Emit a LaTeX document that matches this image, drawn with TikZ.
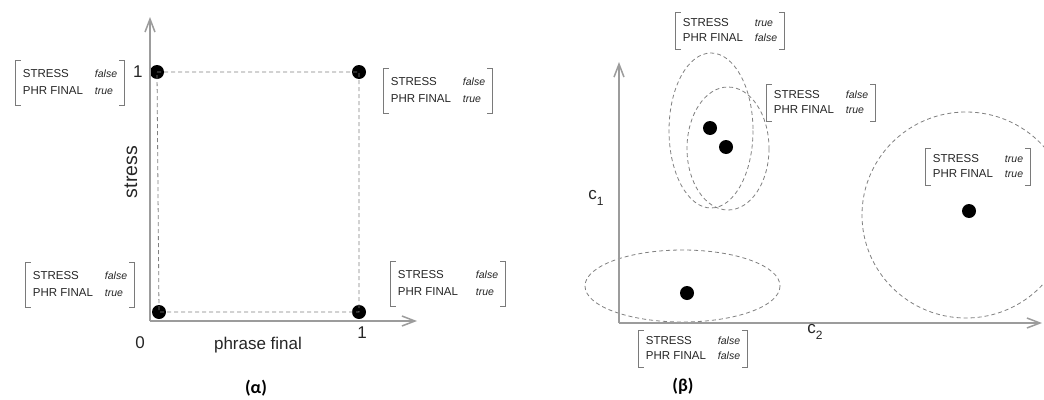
\documentclass[tikz,border=0pt]{standalone}
\usepackage{fontspec}
\setmainfont{Liberation Sans}
\newfontfamily\capfont{Carlito}
\usetikzlibrary{arrows.meta, positioning}

\definecolor{axisgray}{HTML}{9C9C9C}
\definecolor{dashgray}{HTML}{808080}
\definecolor{brkgray}{HTML}{7A7A7A}
\definecolor{inkgray}{HTML}{262626}

\newcommand{\valfont}{\fontsize{10.5}{12}\itshape}
% feature matrix: [gap]{stress value}{phr final value}
\newcommand{\fm}[3][12pt]{\begin{tabular}{@{}l@{\hspace{#1}}l@{}}STRESS & \valfont #2\\PHR FINAL & \valfont #3\end{tabular}}
% square brackets round a named node
\newcommand{\brackets}[1]{%
  \draw[brk] ([xshift=5pt]#1.north west) -| (#1.south west) -- ++(5,0);
  \draw[brk] ([xshift=-5pt]#1.north east) -| (#1.south east) -- ++(-5,0);
}

\begin{document}
\begin{tikzpicture}[
                x=1pt, y=-1pt,
                >={Straight Barb[length=13pt,width=10pt]},
                axis/.style={draw=axisgray, line width=1.5pt, ->},
                guide/.style={draw=dashgray, line width=0.8pt, dash pattern=on 4pt off 3pt},
                brk/.style={draw=brkgray, line width=1.1pt},
                featbox/.style={inner xsep=7pt, inner ysep=4pt, text=inkgray, font=\fontsize{11.5}{14.5}\selectfont},
                tallfeat/.style={featbox, inner ysep=5pt, font=\fontsize{11.5}{17}\selectfont},
                dot/.style={circle, fill=black, inner sep=0pt, minimum size=14pt},
                axlabel/.style={text=inkgray, inner sep=0pt, font=\fontsize{17}{20}\selectfont},
                caption/.style={inner sep=0pt, font=\capfont\bfseries\fontsize{18}{20}\selectfont}
            ]
            \path[use as bounding box, fill=white] (0,0) rectangle (1044,399);

            % (alpha): the four corners
            \coordinate (o1) at (150,321);
            \coordinate (y1) at (150,17);
            \coordinate (x1) at (417,321);
            \node[dot] (p01) at (157,72) {};
            \node[dot] (p11) at (359,72) {};
            \node[dot] (p00) at (159,312) {};
            \node[dot] (p10) at (359,312) {};
            \draw[guide] (p01.center) -- (p11.center) -- (p10.center) -- (p00.center) -- cycle;
            \draw[axis] (o1) -- (y1);
            \draw[axis] (o1) -- (x1);

            \node[axlabel, left=7pt of p01] (one1) {1};
            \node[axlabel] (zero) at (140,343) {0};
            \node[axlabel] (one2) at (362,333) {1};
            \node[axlabel] (xlab) at (258,345) {phrase final};
            \node[axlabel, rotate=90, font=\fontsize{19.5}{22}\selectfont] (ylab) at (131,172) {stress};

            \node[tallfeat] (m01) at (70,83) {\fm{false}{true}};
            \node[tallfeat] (m11) at (438,91) {\fm{false}{true}};
            \node[tallfeat] (m00) at (80,285) {\fm{false}{true}};
            \node[tallfeat] (m10) at (448,284) {\fm[18pt]{false}{true}};
            \brackets{m01}
            \brackets{m11}
            \brackets{m00}
            \brackets{m10}

            % (beta): clusters
            \coordinate (o2) at (619,323);
            \coordinate (y2) at (619,62);
            \coordinate (x2) at (1042,323);
            \draw[guide] (711,130.5) ellipse [x radius=42, y radius=77.5];
            \draw[guide] (728,148.5) ellipse [x radius=41, y radius=61.5];
            \draw[guide] (966,215) ellipse [x radius=104, y radius=103];
            \draw[guide] (682.5,286) ellipse [x radius=97.5, y radius=36];
            \draw[axis] (o2) -- (y2);
            \draw[axis] (o2) -- (x2);
            \node[dot] (q10a) at (710,128) {};
            \node[dot] (q10b) at (726,147) {};
            \node[dot] (q11) at (969,211) {};
            \node[dot] (q00) at (687,293) {};

            \node[axlabel] (c1) at (596,198) {c\raisebox{-6pt}{\fontsize{12}{12}\selectfont 1}};
            \node[axlabel] (c2) at (815,332) {c\raisebox{-6pt}{\fontsize{12}{12}\selectfont 2}};

            \node[featbox] (n10) at (730,31) {\fm{true}{false}};
            \node[featbox] (n01) at (821,103) {\fm{false}{true}};
            \node[featbox] (n11) at (978,167) {\fm{true}{true}};
            \node[featbox] (n00) at (693,349) {\fm{false}{false}};
            \brackets{n10}
            \brackets{n01}
            \brackets{n11}
            \brackets{n00}

            \node[caption] (capa) at (256,388) {(α)};
            \node[caption] (capb) at (683,386) {(β)};
        \end{tikzpicture}
\end{document}
